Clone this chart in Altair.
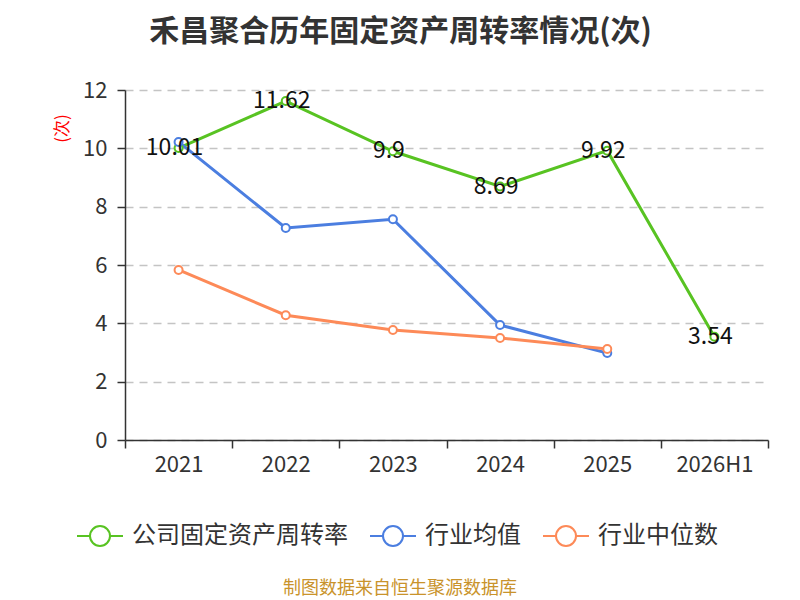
import pandas as pd
import altair as alt

# values
periods = ["2021", "2022", "2023", "2024", "2025", "2026H1"]
series_names = ["公司固定资产周转率", "行业均值", "行业中位数"]
company = [10.01, 11.62, 9.9, 8.69, 9.92, 3.54]
industry_avg = [10.22, 7.27, 7.57, 3.94, 2.98, None]
industry_median = [5.83, 4.28, 3.77, 3.50, 3.12, None]
colors = ["#58c322", "#4b7ee0", "#fd8a58"]
footer = ["制图数据来自恒生聚源数据库"]

rows = []
for name, vals in zip(series_names, [company, industry_avg, industry_median]):
    for p, v in zip(periods, vals):
        if v is not None:
            rows.append({"period": p, "series": name, "value": v})
df = pd.DataFrame(rows)

FONT = "Noto Sans CJK SC"

# legend glyph: short line - hollow circle - short line
legend_symbol = "M-2.3,0L-1,0M1,0L2.3,0M1,0A1,1,0,1,1,-1,0A1,1,0,1,1,1,0"

x_enc = alt.X(
    "period:N",
    sort=periods,
    scale=alt.Scale(type="band", paddingInner=0, paddingOuter=0),
    bandPosition=0.5,
    axis=alt.Axis(title=None, tickBand="extent", labelFontSize=22, labelColor="#333333",
                  labelPadding=6, tickSize=8, tickColor="#333333", domainColor="#333333",
                  domainWidth=1.5, tickWidth=1.5, grid=False, labelAngle=0),
)
y_enc = alt.Y(
    "value:Q",
    scale=alt.Scale(domain=[0, 12], nice=False),
    axis=alt.Axis(title="(次)", values=[0, 2, 4, 6, 8, 10, 12], labelFontSize=22,
                  labelColor="#333333", tickSize=8, tickColor="#333333", tickWidth=1.5,
                  domainColor="#333333", domainWidth=1.5, labelPadding=10,
                  grid=True, gridColor="#c4c4c4", gridDash=[8, 6], gridWidth=1.5,
                  titleColor="#ff0000", titleFontSize=17, titleFontWeight="normal",
                  titleX=-63, titleY=38, titleAlign="center", titleBaseline="middle",
                  titleAngle=-90),
)
color_enc = alt.Color(
    "series:N",
    sort=series_names,
    scale=alt.Scale(domain=series_names, range=colors),
    legend=alt.Legend(title=None, orient="none", direction="horizontal",
                      legendX=-37, legendY=434, symbolType=legend_symbol,
                      symbolSize=400, symbolStrokeWidth=2, symbolFillColor="white",
                      labelFontSize=24, labelColor="#333333", labelOffset=20,
                      labelLimit=400, columnPadding=18, padding=0),
)

base = alt.Chart(df).encode(x=x_enc, y=y_enc, color=color_enc)

lines = base.mark_line(strokeWidth=3)
points = base.mark_point(filled=False, fill="white", fillOpacity=1, size=64,
                         strokeWidth=2, opacity=1)
labels = base.transform_filter(
    alt.datum.series == series_names[0]
).mark_text(fontSize=23, color="#111111", baseline="middle", align="center", dx=-4).encode(
    text=alt.Text("value:Q", format="~r"),
    color=alt.value("#111111"),
)

foot = alt.Chart(pd.DataFrame({"txt": footer})).mark_text(
    fontSize=18, color="#c9932b", align="center", baseline="middle"
).encode(x=alt.value(275), y=alt.value(499), text="txt:N")

chart = (lines + points + labels + foot).properties(
    width=643,
    height=350,
    autosize=alt.AutoSizeParams(type="none"),
    padding={"left": 117, "top": 82, "right": 24, "bottom": 160},
    title=alt.TitleParams(
        text="禾昌聚合历年固定资产周转率情况(次)",
        anchor="middle", frame="group", dx=-46, offset=32,
        fontSize=30, fontWeight="bold", color="#333333", font=FONT,
    ),
).configure(font=FONT).configure_view(strokeWidth=0)

chart.save("out.html", embed_options={"renderer": "svg", "actions": False})
